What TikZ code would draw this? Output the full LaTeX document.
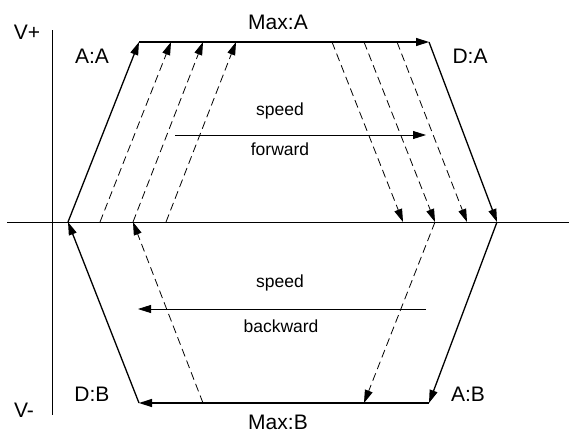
\documentclass[tikz,border=0pt]{standalone}
\usepackage{fontspec}
\setmainfont{Liberation Sans}
\usetikzlibrary{arrows.meta}
\tikzset{
  tip/.style={-{Triangle[length=13pt,width=8pt]}},
  solidarrow/.style={tip, line width=1.3pt},
  dasharrow/.style={tip, line width=0.8pt, dash pattern=on 8pt off 4.5pt},
  axis/.style={line width=0.8pt},
  speedarrow/.style={tip, line width=0.8pt},
  lbl/.style={font=\fontsize{21}{21}\selectfont, inner sep=0pt},
  small/.style={font=\fontsize{17.5}{17.5}\selectfont, inner sep=0pt}
}
\begin{document}
\begin{tikzpicture}[x=1pt,y=-1pt]
\useasboundingbox (0,0) rectangle (569,434);
% axes
\coordinate (xl) at (7,222);
\coordinate (xr) at (569,222);
\coordinate (yt) at (52,30);
\coordinate (yb) at (52,415);
\draw[axis] (xl) -- (xr);
\draw[axis] (yt) -- (yb);
% main corners
\coordinate (O1) at (68,222);
\coordinate (T1) at (139,42);
\coordinate (T2) at (429,42);
\coordinate (R) at (497,222);
\coordinate (B2) at (429,403);
\coordinate (B1) at (139,403);
% dashed up
\coordinate (u1a) at (100,222); \coordinate (u1b) at (171,42);
\coordinate (u2a) at (133,222); \coordinate (u2b) at (203,42);
\coordinate (u3a) at (166,222); \coordinate (u3b) at (236,42);
% dashed down
\coordinate (d1a) at (332,42); \coordinate (d1b) at (403,222);
\coordinate (d2a) at (364,42); \coordinate (d2b) at (435,222);
\coordinate (d3a) at (397,42); \coordinate (d3b) at (467,222);
% lower dashed
\coordinate (l1a) at (435,222); \coordinate (l1b) at (364,403);
\coordinate (l2a) at (203,403); \coordinate (l2b) at (133,222);
% speed arrows
\coordinate (sf1) at (175,135); \coordinate (sf2) at (426,135);
\coordinate (sb1) at (426,309); \coordinate (sb2) at (138,309);

\draw[solidarrow] (O1) -- (T1);
\draw[solidarrow] (T1) -- (T2);
\draw[solidarrow] (T2) -- (R);
\draw[solidarrow] (R) -- (B2);
\draw[solidarrow] (B2) -- (B1);
\draw[solidarrow] (B1) -- (O1);

\draw[dasharrow] (u1a) -- (u1b);
\draw[dasharrow] (u2a) -- (u2b);
\draw[dasharrow] (u3a) -- (u3b);
\draw[dasharrow] (d1a) -- (d1b);
\draw[dasharrow] (d2a) -- (d2b);
\draw[dasharrow] (d3a) -- (d3b);
\draw[dasharrow] (l1a) -- (l1b);
\draw[dasharrow] (l2a) -- (l2b);

\draw[speedarrow] (sf1) -- (sf2);
\draw[speedarrow] (sb1) -- (sb2);

% labels
\node[lbl] (vp) at (27,32) {V+};
\node[lbl] (vm) at (24,410) {V-};
\node[lbl] (aa) at (92,56) {A:A};
\node[lbl] (maxa) at (278,22) {Max:A};
\node[lbl] (da) at (470,56) {D:A};
\node[lbl] (db) at (92,394) {D:B};
\node[lbl] (ab) at (468,394) {A:B};
\node[lbl] (maxb) at (278,422) {Max:B};
\node[small] (sp1) at (280,111) {speed};
\node[small] (fw) at (280,149) {forward};
\node[small] (sp2) at (280,283) {speed};
\node[small] (bw) at (281,326) {backward};
\end{tikzpicture}
\end{document}
